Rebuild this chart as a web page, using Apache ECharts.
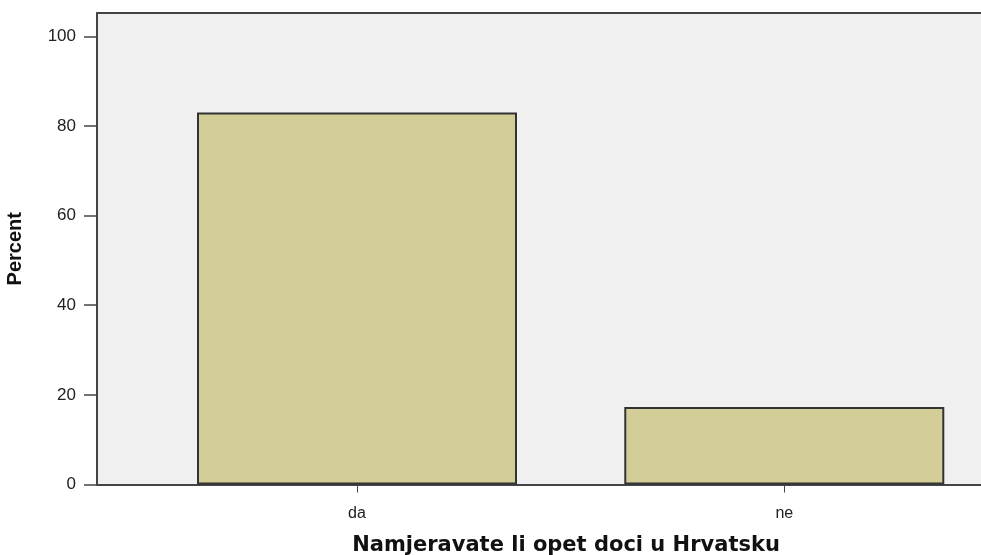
<!DOCTYPE html>
<html>
<head>
<meta charset="utf-8">
<script src="https://cdn.jsdelivr.net/npm/echarts@6/dist/echarts.min.js"></script>
<style>
  html, body { margin: 0; padding: 0; background: #fff; }
  #chart-panel { width: 981px; height: 555px; }
</style>
</head>
<body>
<div id="chart-panel"></div>
<script>
// categories and percentages
const answers = ['da', 'ne'];
const percent = [83.0, 17.3];
const yTicks = [0, 20, 40, 60, 80, 100];
const xPositions = [1, 2];

var myChart = echarts.init(document.getElementById('chart-panel'));

const data = answers.map(function (name, i) {
  return [xPositions[i], percent[i]];
});

// the original plot is cut off on the right, so the x range ends early
const xMin = 0.3915;
const xMax = 2.4604;

myChart.setOption({
  animation: false,
  grid: {
    left: 97,
    right: 0,
    top: 13,
    bottom: 70.5,
    outerBoundsMode: 'none',
    show: true,
    backgroundColor: '#f0f0f0',
    borderWidth: 0
  },
  xAxis: [
    {
      type: 'value',
      min: xMin,
      max: xMax,
      name: 'Namjeravate li opet doci u Hrvatsku',
      nameLocation: 'middle',
      nameGap: 51,
      nameTextStyle: {
        fontFamily: 'DejaVu Sans',
        fontWeight: 'bold',
        fontSize: 21,
        color: '#111',
        padding: [0, 0, 0, 54]
      },
      axisLine: { show: true, lineStyle: { color: '#444', width: 2 } },
      axisTick: {
        show: true,
        customValues: xPositions,
        length: 8,
        lineStyle: { color: '#444', width: 1 }
      },
      axisLabel: {
        customValues: xPositions,
        margin: 21,
        fontFamily: 'Liberation Sans',
        fontSize: 16,
        color: '#222',
        formatter: function (v) {
          return answers[xPositions.indexOf(v)] || '';
        }
      },
      splitLine: { show: false }
    },
    {
      // top frame line only
      type: 'value',
      position: 'top',
      min: xMin,
      max: xMax,
      axisLine: { show: true, lineStyle: { color: '#444', width: 2 } },
      axisTick: { show: false },
      axisLabel: { show: false },
      splitLine: { show: false }
    }
  ],
  yAxis: {
    type: 'value',
    min: 0,
    max: 105.2,
    name: 'Percent',
    nameLocation: 'middle',
    nameGap: 72,
    nameTextStyle: {
      fontFamily: 'Liberation Sans',
      fontWeight: 'bold',
      fontSize: 20,
      color: '#111'
    },
    axisLine: { show: true, lineStyle: { color: '#444', width: 2 } },
    axisTick: {
      show: true,
      customValues: yTicks,
      length: 13,
      lineStyle: { color: '#444', width: 1.5 }
    },
    axisLabel: {
      customValues: yTicks,
      margin: 21,
      fontFamily: 'Liberation Sans',
      fontSize: 17,
      color: '#222'
    },
    splitLine: { show: false }
  },
  series: [
    {
      type: 'bar',
      data: data,
      barWidth: 320,
      itemStyle: {
        color: '#d3ce97',
        borderColor: '#333',
        borderWidth: 2
      }
    }
  ]
});
</script>
</body>
</html>
